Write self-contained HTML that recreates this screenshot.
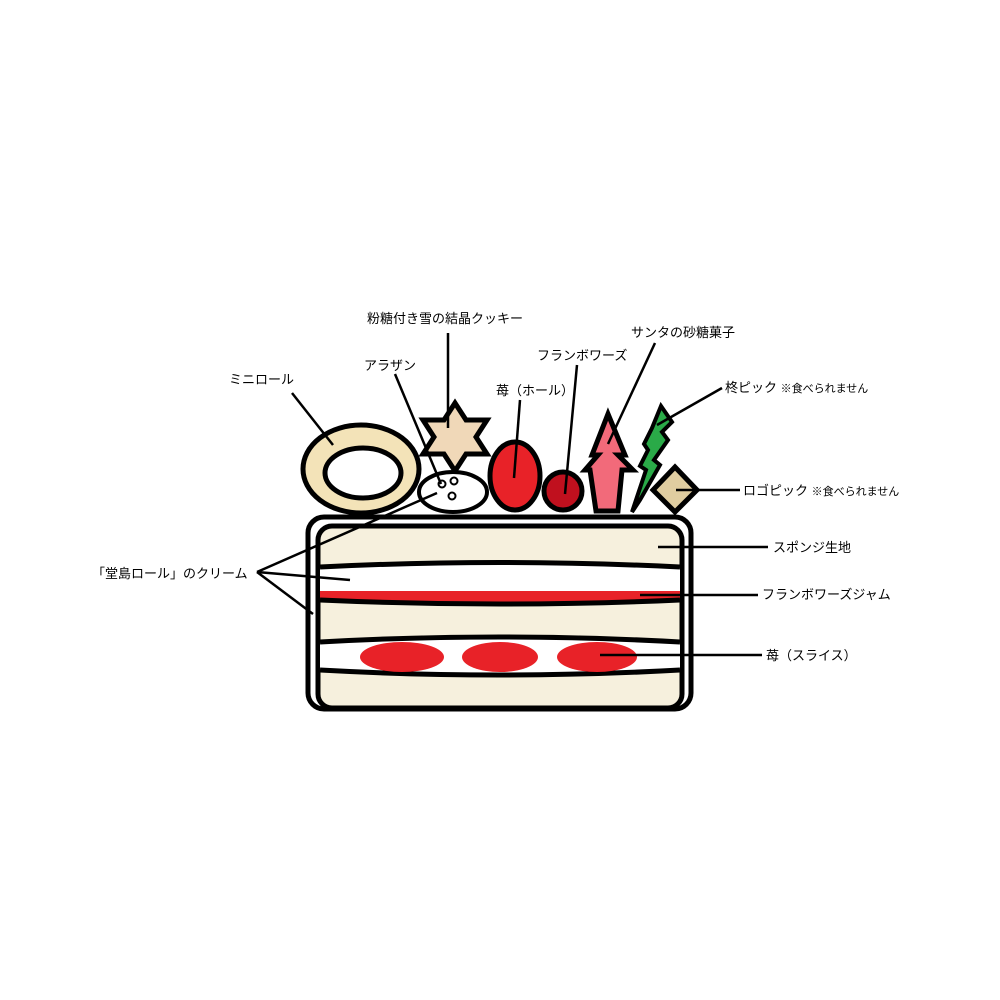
<!DOCTYPE html>
<html><head><meta charset="utf-8"><style>
html,body{margin:0;padding:0;background:#fff;}
svg{display:block}
text{font-family:"Liberation Sans","Noto Sans CJK JP",sans-serif;font-size:13px;fill:#000}
.s{font-size:11px}
</style></head><body>
<svg width="1000" height="1000" viewBox="0 0 1000 1000">
<!-- cake body -->
<rect x="308" y="517" width="383" height="192" rx="16" fill="#fff" stroke="#000" stroke-width="5"/>
<rect x="318" y="526" width="364" height="182" rx="14" fill="#f6f0dd" stroke="#000" stroke-width="5"/>
<!-- cream + jam layer -->
<path d="M320 567 Q500 558 680 567 L680 600 Q500 608 320 600 Z" fill="#fff"/>
<path d="M320 591 L680 591 L680 600 Q500 606 320 600 Z" fill="#e82228"/>
<path d="M320 567 Q500 558 680 567" fill="none" stroke="#000" stroke-width="5"/>
<path d="M320 600 Q500 608 680 600" fill="none" stroke="#000" stroke-width="5"/>
<!-- strawberry slice layer -->
<path d="M320 642 Q500 632 680 642 L680 670 Q500 680 320 670 Z" fill="#fff"/>
<path d="M320 642 Q500 632 680 642" fill="none" stroke="#000" stroke-width="5"/>
<path d="M320 670 Q500 680 680 670" fill="none" stroke="#000" stroke-width="5"/>
<ellipse cx="402" cy="657" rx="42" ry="15" fill="#e82228"/>
<ellipse cx="500" cy="657" rx="38" ry="15" fill="#e82228"/>
<ellipse cx="597" cy="657" rx="40" ry="15" fill="#e82228"/>
<!-- mini roll -->
<ellipse cx="361" cy="469" rx="58" ry="44" fill="#f3e3b8" stroke="#000" stroke-width="5"/>
<ellipse cx="363" cy="473" rx="38" ry="25" fill="#fff" stroke="#000" stroke-width="5"/>
<!-- star cookie -->
<polygon points="455,403 466,420 487,420 476,437 487,454 466,454 455,471 444,454 423,454 434,437 423,420 444,420" fill="#f0d8b8" stroke="#000" stroke-width="5" stroke-linejoin="miter"/>
<!-- aransan -->
<ellipse cx="453" cy="492" rx="34" ry="20" fill="#fff" stroke="#000" stroke-width="4"/>
<circle cx="442" cy="484" r="3.5" fill="#fff" stroke="#000" stroke-width="2"/>
<circle cx="454" cy="481" r="3.5" fill="#fff" stroke="#000" stroke-width="2"/>
<circle cx="452" cy="496" r="3.5" fill="#fff" stroke="#000" stroke-width="2"/>
<!-- strawberry -->
<ellipse cx="515" cy="476" rx="25" ry="34" fill="#e82228" stroke="#000" stroke-width="5"/>
<!-- raspberry -->
<circle cx="563" cy="491" r="19" fill="#c0101e" stroke="#000" stroke-width="5"/>
<!-- santa sugar -->
<polygon points="608,414 625,455 618,455 633,470 622,470 618,511 596,511 590,470 585,470 598,455 592,455" fill="#f26a7a" stroke="#000" stroke-width="5" stroke-linejoin="miter"/>
<!-- holly pick -->
<polygon points="661,406 672,422 662,432 668,440 654,460 660,465 640,500 632,512 640,488 646,470 640,466 648,450 644,444 652,428" fill="#2aaa48" stroke="#000" stroke-width="4"/>
<!-- logo pick -->
<polygon points="675,467 697,490 675,512 653,490" fill="#e0cda0" stroke="#000" stroke-width="5"/>
<!-- leader lines -->
<g stroke="#000" stroke-width="2.5" fill="none">
<line x1="292" y1="393" x2="333" y2="445"/>
<line x1="395" y1="374" x2="441" y2="484"/>
<line x1="448" y1="333" x2="448" y2="428"/>
<line x1="520" y1="400" x2="514" y2="478"/>
<line x1="577" y1="365" x2="565" y2="494"/>
<line x1="655" y1="343" x2="608" y2="444"/>
<line x1="722" y1="388" x2="657" y2="425"/>
<line x1="740" y1="490" x2="676" y2="490"/>
<line x1="768" y1="547" x2="658" y2="547"/>
<line x1="758" y1="595" x2="640" y2="595"/>
<line x1="762" y1="655" x2="600" y2="655"/>
<line x1="257" y1="572" x2="437" y2="493"/>
<line x1="257" y1="572" x2="350" y2="580"/>
<line x1="257" y1="572" x2="313" y2="614"/>
</g>
<!-- labels -->
<text x="229" y="384">ミニロール</text>
<text x="364" y="370">アラザン</text>
<text x="367" y="323">粉糖付き雪の結晶クッキー</text>
<text x="496" y="395">苺（ホール）</text>
<text x="537" y="360">フランボワーズ</text>
<text x="631" y="337">サンタの砂糖菓子</text>
<text x="725" y="392">柊ピック <tspan class="s">※食べられません</tspan></text>
<text x="743" y="495">ロゴピック <tspan class="s">※食べられません</tspan></text>
<text x="773" y="552">スポンジ生地</text>
<text x="762" y="599">フランボワーズジャム</text>
<text x="766" y="660">苺（スライス）</text>
<text x="92" y="578">「堂島ロール」のクリーム</text>
</svg>
</body></html>
